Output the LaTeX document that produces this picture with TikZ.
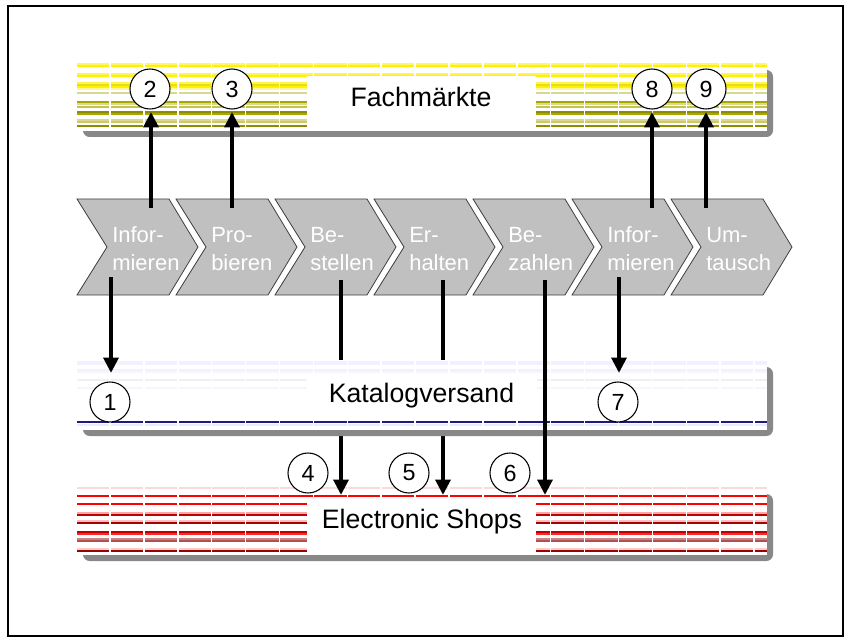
\documentclass[tikz,border=0pt]{standalone}
\usepackage{fontspec}
\setmainfont{Liberation Sans}
\usetikzlibrary{arrows.meta}
\definecolor{chevgray}{HTML}{C0C0C0}
\definecolor{shadowgray}{HTML}{888888}
\definecolor{navyline}{HTML}{1A1A80}
\definecolor{olive}{HTML}{A8A800}
\definecolor{darkolive}{HTML}{8C8C00}
\definecolor{khaki}{HTML}{D8D890}
\definecolor{brownred}{HTML}{B05050}
\tikzset{
  arr/.style={line width=3.2pt,-{Triangle[width=11pt,length=11.5pt]}},
  numc/.style={circle,draw=black,line width=0.8pt,fill=white,minimum size=30pt,inner sep=0pt,font=\fontsize{17.5}{20}\selectfont},
  bandlabel/.style={font=\fontsize{20}{24}\selectfont,inner sep=0pt},
  chevtext/.style={font=\fontsize{16.5}{21}\selectfont,text=white,align=left,anchor=west,inner sep=0pt},
  chev/.style={fill=chevgray,draw=black!75,line width=0.6pt},
  stripe/.style={line width=1.1pt}
}
\newcommand{\bandshape}[3]{% top, bottom, stripe list
  \fill[shadowgray,rounded corners=5pt] (83,#1+7) rectangle (773,#2+6);
  \fill[white] (77,#1) rectangle (767,#2);
  \foreach \o/\c in {#3} \draw[stripe,\c] (77,#1+\o) -- (767,#1+\o);
  \foreach \k in {0,...,19} \draw[white,line width=1.1pt] (110+33.9*\k,#1) -- (110+33.9*\k,#2);
}
\begin{document}
\begin{tikzpicture}[x=0.75pt,y=-0.75pt]
\useasboundingbox (0,0) rectangle (851,642);
% outer frame
\draw[line width=1.5pt] (8,6) rectangle (843,636);

% Band Fachmaerkte
\bandshape{63}{131}{1/yellow!60,3/yellow,11/yellow!70,13/yellow,20/yellow!70,22/yellow!90!black,24/yellow,26/yellow!40,30/khaki,39/olive,41/khaki,44/olive!70,49/darkolive,51/olive,57/khaki,59/olive!60,63/darkolive}
\fill[white] (307,76) rectangle (536,131);
\node[bandlabel] (fach) at (421,97) {Fachmärkte};

% Band Electronic Shops
\bandshape{487}{555}{1/red!15,9/red,17/red,26/red!35,28/red!75!black,34/red!25,36/red!65!black,45/red!75!black,47/red!85,52/brownred!70,54/brownred,62/red!20,64/red!60!black}
\fill[white] (307,500) rectangle (536,552);
\node[bandlabel] (shops) at (422,522) {Electronic Shops};

% Chevrons
\foreach \L/\a/\b [count=\i] in {77/Infor-/mieren,176/Pro-/bieren,275/Be-/stellen,374/Er-/halten,473/Be-/zahlen,572/Infor-/mieren,671/Um-/tausch}{
  \draw[chev] (\L,199) -- (\L+92,199) -- (\L+121,247) -- (\L+92,295) -- (\L,295) -- (\L+30,247) -- cycle;
  \node[chevtext] (c\i) at (\L+35,249) {\a\\\b};
}

% arrows 4 and 5 (behind Katalogversand band)
\coordinate (s4) at (341,280); \coordinate (e4) at (341,495);
\coordinate (s5) at (443,280); \coordinate (e5) at (443,495);
\draw[arr] (s4) -- (e4);
\draw[arr] (s5) -- (e5);

% Band Katalogversand
\bandshape{360}{430}{2/blue!6,4/blue!5,10/blue!5,12/blue!4,20/black!6,28/blue!4,62/navyline,65/blue!8}
\fill[white] (307,373) rectangle (537,420);
\node[bandlabel] (kat) at (421.5,396) {Katalogversand};

% remaining arrows
\coordinate (s1) at (111,277); \coordinate (e1) at (111,373);
\coordinate (s7) at (619,277); \coordinate (e7) at (619,373);
\coordinate (s6) at (545,280); \coordinate (e6) at (545,495);
\draw[arr] (s1) -- (e1);
\draw[arr] (s7) -- (e7);
\draw[arr] (s6) -- (e6);
\coordinate (s2) at (151,208); \coordinate (e2) at (151,112);
\coordinate (s3) at (232,208); \coordinate (e3) at (232,112);
\coordinate (s8) at (652,208); \coordinate (e8) at (652,112);
\coordinate (s9) at (706,208); \coordinate (e9) at (706,112);
\draw[arr] (s2) -- (e2);
\draw[arr] (s3) -- (e3);
\draw[arr] (s8) -- (e8);
\draw[arr] (s9) -- (e9);

% numbered circles
\node[numc] (n1) at (110,402) {1};
\node[numc] (n2) at (150,89) {2};
\node[numc] (n3) at (232,89) {3};
\node[numc] (n4) at (308,473) {4};
\node[numc] (n5) at (409,473) {5};
\node[numc] (n6) at (510,473) {6};
\node[numc] (n7) at (618,402) {7};
\node[numc] (n8) at (652,89) {8};
\node[numc] (n9) at (706,89) {9};
\end{tikzpicture}
\end{document}
